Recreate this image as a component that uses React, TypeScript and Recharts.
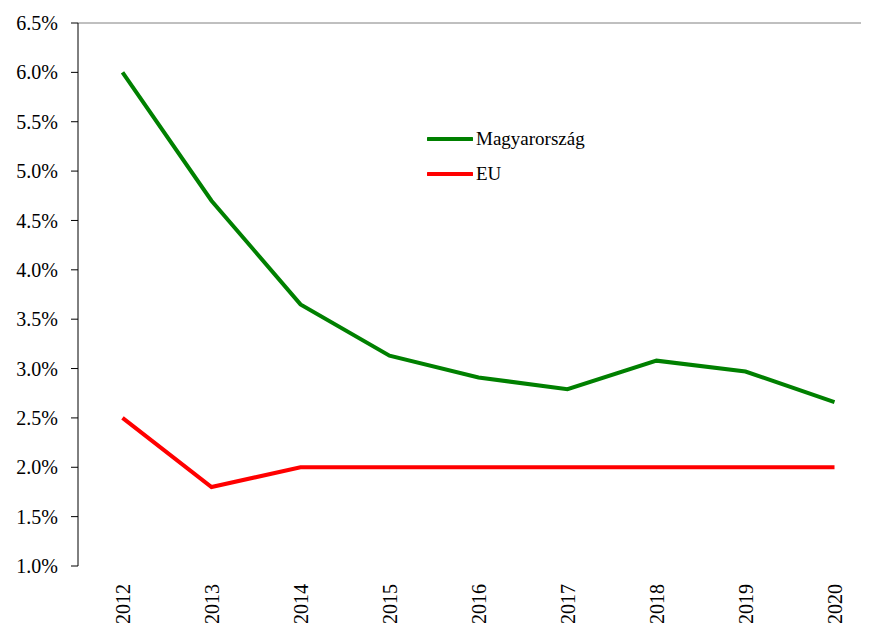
import React from "react";
import { LineChart, Line, XAxis, YAxis, ReferenceLine, Legend } from "recharts";

const years = ["2012", "2013", "2014", "2015", "2016", "2017", "2018", "2019", "2020"];
const hungary = [6.0, 4.7, 3.65, 3.13, 2.91, 2.79, 3.08, 2.97, 2.66];
const eu = [2.5, 1.8, 2.0, 2.0, 2.0, 2.0, 2.0, 2.0, 2.0];
const yTicks = [1.0, 1.5, 2.0, 2.5, 3.0, 3.5, 4.0, 4.5, 5.0, 5.5, 6.0, 6.5];
const seriesNames = ["Magyarország", "EU"];

const data = years.map((y, i) => ({ x: i + 0.5, year: y, hu: hungary[i], eu: eu[i] }));
const boundaryTicks = years.map((_, i) => i).concat([years.length]);
const centerTicks = years.map((_, i) => i + 0.5);

const FONT = "Liberation Serif, Times New Roman, serif";

const YearTick = (props: any) => {
  const { x, y, payload } = props;
  const idx = Math.floor(payload.value);
  const label = years[idx] ?? "";
  const yy = y + 18;
  return (
    <text
      x={x}
      y={yy}
      transform={`rotate(-90, ${x}, ${yy})`}
      textAnchor="end"
      dominantBaseline="central"
      style={{ fontFamily: FONT, fontSize: 20 }}
      fill="#000"
    >
      {label}
    </text>
  );
};

const LegendContent = (props: any) => {
  const { payload } = props;
  const items = seriesNames
    .map((n) => (payload || []).find((p: any) => p.value === n))
    .filter(Boolean);
  return (
    <div style={{ fontFamily: FONT, fontSize: 19, color: "#000" }}>
      {items.map((p: any) => (
        <div key={p.value} style={{ display: "flex", alignItems: "center", height: 35 }}>
          <svg width={46} height={6} style={{ display: "block" }}>
            <line x1={1} y1={3} x2={45} y2={3} stroke={p.color} strokeWidth={4} strokeLinecap="round" />
          </svg>
          <span style={{ marginLeft: 3, lineHeight: "35px" }}>{p.value}</span>
        </div>
      ))}
    </div>
  );
};

export default function App() {
  return (
    <div style={{ width: 861, height: 615, overflow: "hidden", position: "relative", fontFamily: FONT }}>
      <LineChart
        width={880}
        height={615}
        data={data}
        margin={{ top: 15, right: 9, left: 0, bottom: 0 }}
        style={{ fontFamily: FONT }}
      >
        <XAxis
          xAxisId="marks"
          type="number"
          dataKey="x"
          domain={[0, years.length]}
          ticks={boundaryTicks}
          tick={false}
          tickSize={7}
          height={0}
          axisLine={{ stroke: "#000", strokeWidth: 1 }}
          tickLine={{ stroke: "#000", strokeWidth: 1 }}
        />
        <XAxis
          xAxisId="labels"
          type="number"
          dataKey="x"
          domain={[0, years.length]}
          ticks={centerTicks}
          tick={<YearTick />}
          tickSize={0}
          tickMargin={0}
          height={57}
          axisLine={false}
          tickLine={false}
          interval={0}
        />
        <YAxis
          type="number"
          domain={[1, 6.5]}
          ticks={yTicks}
          width={70}
          tickSize={7}
          tickMargin={13}
          interval={0}
          tickFormatter={(v: number) => v.toFixed(1) + "%"}
          tick={{ style: { fontFamily: FONT }, fontFamily: FONT, fontSize: 20, fill: "#000" }}
          axisLine={{ stroke: "#000", strokeWidth: 1 }}
          tickLine={{ stroke: "#000", strokeWidth: 1 }}
        />
        <ReferenceLine xAxisId="marks" y={6.5} stroke="#808080" strokeWidth={1} />
        <Legend
          layout="vertical"
          align="center"
          verticalAlign="middle"
          itemSorter={null as any}
          content={<LegendContent />}
          wrapperStyle={{ position: "absolute", left: 419, top: 113, width: "auto" }}
        />
        <Line
          xAxisId="marks"
          type="linear"
          dataKey="hu"
          name={seriesNames[0]}
          stroke="#008000"
          strokeWidth={4}
          dot={false}
          activeDot={false}
          isAnimationActive={false}
        />
        <Line
          xAxisId="marks"
          type="linear"
          dataKey="eu"
          name={seriesNames[1]}
          stroke="#FF0000"
          strokeWidth={4}
          dot={false}
          activeDot={false}
          isAnimationActive={false}
        />
      </LineChart>
    </div>
  );
}
